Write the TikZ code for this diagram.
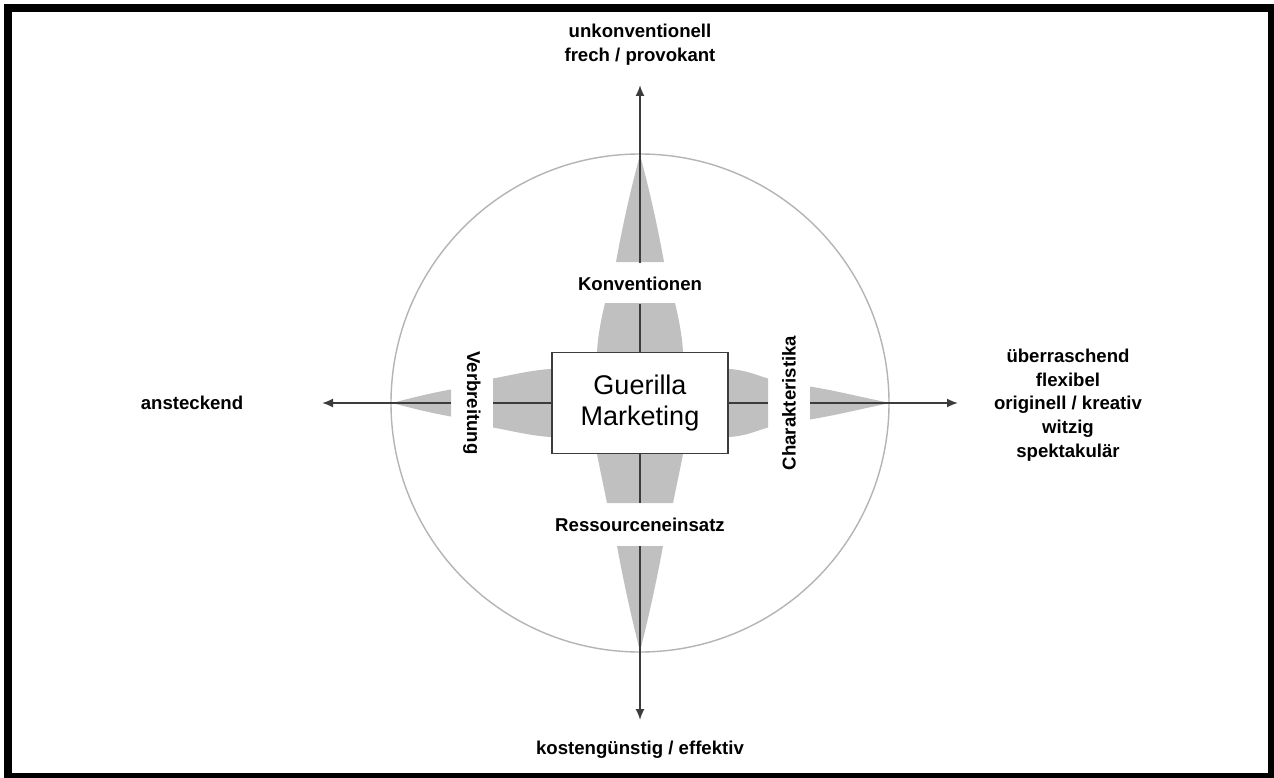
\documentclass[tikz,border=0pt]{standalone}
\usepackage{fontspec}
\setmainfont{Liberation Sans}
\usetikzlibrary{arrows.meta}
\definecolor{axisgray}{HTML}{3C3C3C}
\definecolor{wedgegray}{HTML}{C0C0C0}
\definecolor{circlegray}{HTML}{B4B4B4}
\begin{document}
\begin{tikzpicture}[x=1pt,y=-1pt,
  axisline/.style={draw=axisgray,line width=1.8pt},
  tipped/.style={-{Latex[length=11pt,width=9pt]}},
  wedge/.style={fill=wedgegray,draw=none},
  lab/.style={font=\fontsize{18.6}{23.7}\selectfont\bfseries,text=black,inner sep=0pt,align=center},
  gaplab/.style={lab,minimum height=#1}]
\useasboundingbox (0,0) rectangle (1274,778);
\fill[white] (0,0) rectangle (1274,778);
\fill[black] (4,4) rectangle (1274,778);
\fill[white] (12,12) rectangle (1268,773);
% circle
\draw[circlegray,line width=1.4pt] (640,403) circle[radius=249];
% outer spikes
\fill[wedge] (616,262) .. controls (622.5,226) and (630.5,190) .. (640,155) .. controls (649.5,190) and (657.5,226) .. (664,262) -- cycle;
\fill[wedge] (617,546) .. controls (623.5,581) and (631,616) .. (640,651) .. controls (649,616) and (656.5,581) .. (663,546) -- cycle;
\fill[wedge] (451,389.5) .. controls (431,393) and (411,398) .. (392,403) .. controls (411,408) and (431,413) .. (451,416.5) -- cycle;
\fill[wedge] (810,386.5) .. controls (837,391) and (863,397.5) .. (890,403) .. controls (863,408.5) and (837,415) .. (810,419.5) -- cycle;
% inner wedges
\fill[wedge] (605,303) .. controls (601,320) and (598,335) .. (597,352) -- (683,352) .. controls (682,335) and (679,320) .. (675,303) -- cycle;
\fill[wedge] (597,454) -- (683,454) .. controls (680,470) and (676,488) .. (673,503) -- (607,503) .. controls (604,488) and (600,470) .. (597,454) -- cycle;
\fill[wedge] (493,378.5) .. controls (512,375) and (532,370) .. (551,369) -- (551,437) .. controls (532,436) and (512,431) .. (493,427.5) -- cycle;
\fill[wedge] (729,369) .. controls (746,370) and (756,375) .. (768,378.5) -- (768,427.5) .. controls (756,431) and (746,436) .. (729,437) -- cycle;
% central box
\node[draw=axisgray,line width=1.8pt,fill=white,minimum width=176pt,minimum height=101pt,inner sep=0pt,align=center,font=\fontsize{27}{31}\selectfont] (box) at (640,403) {Guerilla\\Marketing};
% axis labels (gaps in the axes)
\node[gaplab=41pt] (konv) at (640,283.5) {Konventionen};
\node[gaplab=43pt] (ress) at (640,524.5) {Ressourceneinsatz};
\node[gaplab=42pt,rotate=-90] (verb) at (472,403) {Verbreitung};
\node[gaplab=42pt,rotate=90] (char) at (789,403) {Charakteristika};
% outer labels
\node[lab] (top) at (640,45) {unkonventionell\\frech / provokant};
\node[lab] (bottom) at (640,750) {kostengünstig / effektiv};
\node[lab] (left) at (192,403) {ansteckend};
\node[lab] (right) at (1068,405) {überraschend\\flexibel\\originell / kreativ\\witzig\\spektakulär};
% arrow tips
\coordinate (ttip) at (640,85);
\coordinate (btip) at (640,720);
\coordinate (ltip) at (322,403);
\coordinate (rtip) at (958,403);
% axes
\draw[axisline,tipped] (konv.north) -- (ttip);
\draw[axisline] (box.north) -- (konv.south);
\draw[axisline] (box.south) -- (ress.north);
\draw[axisline,tipped] (ress.south) -- (btip);
\draw[axisline] (box.west) -- (verb.north);
\draw[axisline,tipped] (verb.south) -- (ltip);
\draw[axisline] (box.east) -- (char.north);
\draw[axisline,tipped] (char.south) -- (rtip);
\end{tikzpicture}
\end{document}
